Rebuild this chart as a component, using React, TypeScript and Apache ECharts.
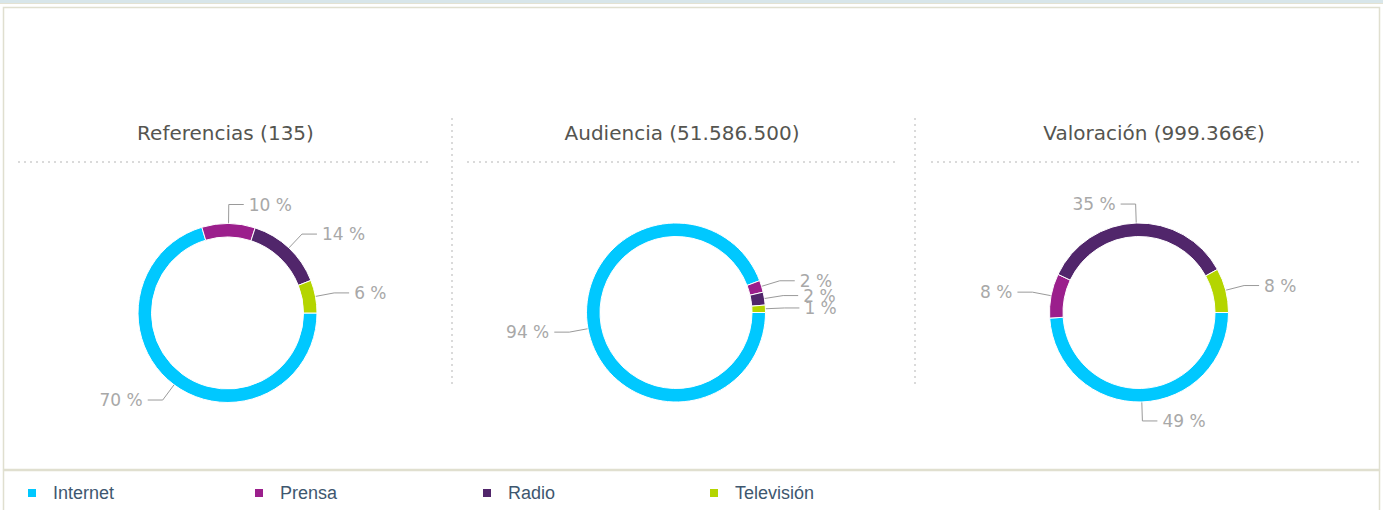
import React, { useEffect, useRef } from "react";
import * as echarts from "echarts";

const categories = ["Internet", "Prensa", "Radio", "Televisión"];
const colors = ["#00c8ff", "#9b1f8c", "#51266b", "#b4d500"];
const chartTitles = ["Referencias (135)", "Audiencia (51.586.500)", "Valoración (999.366€)"];
const referencias = [95, 13, 19, 8];
const audiencia = [48600000, 1100000, 1200000, 686500];
const valoracion = [489700, 80000, 349766, 79900];

const centers: [number, number][] = [
  [227.5, 313],
  [676, 312.5],
  [1139, 312.5],
];
const titleCenters = [225.5, 682, 1154];
const sections: [number, number][] = [
  [18, 428],
  [467, 897],
  [931, 1362],
];
const legendLefts = [26, 253, 481, 708];

export default function App() {
  const ref = useRef<HTMLDivElement>(null);
  useEffect(() => {
    if (!ref.current) return;
    const chart = echarts.init(ref.current, null, { renderer: "svg" });
    const datasets = [referencias, audiencia, valoracion];
    const series = datasets.map((vals, si) => {
      const total = vals.reduce((a, b) => a + b, 0);
      return {
        type: "pie",
        center: centers[si],
        radius: [76, 89.5],
        startAngle: 0,
        clockwise: true,
        avoidLabelOverlap: false,
        labelLayout: { hideOverlap: false },
        silent: true,
        itemStyle: { borderColor: "#ffffff", borderWidth: 1 },
        label: {
          show: true,
          formatter: (p: any) => Math.round((p.value / total) * 100) + " %",
          color: "#a8a8a8",
          fontSize: 17,
          fontFamily: "DejaVu Sans",
        },
        labelLine: {
          show: true,
          length: 19,
          length2: 15,
          lineStyle: { color: "#9a9a9a", width: 1 },
        },
        data: categories.map((c, i) => ({
          name: c,
          value: vals[i],
          itemStyle: { color: colors[i] },
        })),
      };
    });

    const dotted = { stroke: "#b5b5b5", lineWidth: 1, lineDash: [2, 4] };
    const graphics: any[] = [
      { type: "rect", shape: { x: 0, y: 0, width: 1383, height: 3 }, style: { fill: "#d8e6ea" } },
      { type: "line", shape: { x1: 0, y1: 3.5, x2: 1383, y2: 3.5 }, style: { stroke: "#e3e2d3", lineWidth: 1 } },
      {
        type: "rect",
        shape: { x: 3.5, y: 7.5, width: 1376, height: 462 },
        style: { fill: "none", stroke: "#e0dfcf", lineWidth: 1.5 },
      },
      {
        type: "rect",
        shape: { x: 3.5, y: 470.5, width: 1376, height: 45 },
        style: { fill: "none", stroke: "#e0dfcf", lineWidth: 1.5 },
      },
      { type: "line", shape: { x1: 452, y1: 118, x2: 452, y2: 386 }, style: dotted },
      { type: "line", shape: { x1: 915, y1: 118, x2: 915, y2: 386 }, style: dotted },
    ];
    sections.forEach(([a, b]) => {
      graphics.push({ type: "line", shape: { x1: a, y1: 162, x2: b, y2: 162 }, style: dotted });
    });
    chartTitles.forEach((t, i) => {
      graphics.push({
        type: "text",
        x: titleCenters[i],
        y: 133,
        style: {
          text: t,
          align: "center",
          verticalAlign: "middle",
          fill: "#555550",
          fontSize: 20,
          fontFamily: "DejaVu Sans",
        },
      });
    });

    const legends = categories.map((c, i) => ({
      data: [c],
      left: legendLefts[i],
      top: 484,
      icon: "rect",
      itemWidth: 10,
      itemHeight: 10,
      selectedMode: false,
      padding: 0,
      textStyle: {
        fontSize: 18,
        color: "#3e576f",
        fontFamily: "Liberation Sans",
        padding: [0, 0, 0, 11],
      },
    }));

    chart.setOption({
      animation: false,
      backgroundColor: "#ffffff",
      legend: legends,
      graphic: graphics,
      series,
    });
    return () => chart.dispose();
  }, []);
  return (
    <div
      ref={ref}
      style={{ position: "fixed", left: 0, top: 0, width: 1383, height: 510 }}
    />
  );
}
